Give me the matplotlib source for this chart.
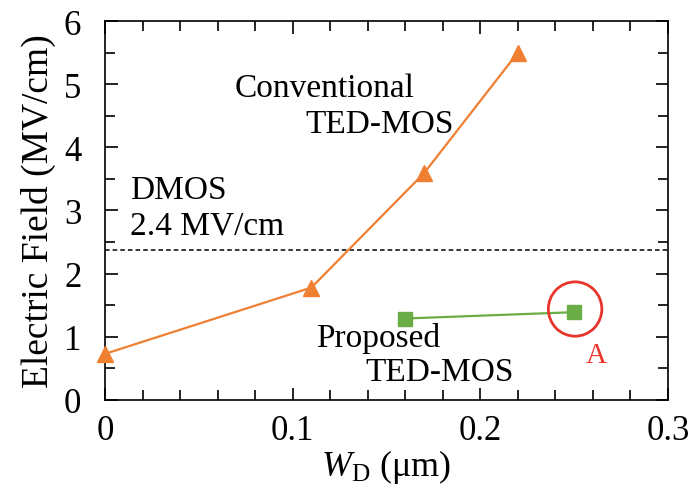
import matplotlib
matplotlib.use('Agg')
import matplotlib.pyplot as plt
from matplotlib.patches import Ellipse
from matplotlib.ticker import MultipleLocator

plt.rcParams['font.family'] = ['Liberation Serif', 'DejaVu Serif']
plt.rcParams['mathtext.fontset'] = 'custom'
plt.rcParams['mathtext.rm'] = 'Liberation Serif'
plt.rcParams['mathtext.it'] = 'Liberation Serif:italic'

# data
conv_wd = [0.0, 0.11, 0.17, 0.22]
conv_field = [0.73, 1.78, 3.59, 5.5]
prop_wd = [0.16, 0.25]
prop_field = [1.29, 1.39]
dmos_field = 2.38

orange = '#ef7f31'
green = '#6aac46'
red = '#e8352b'

fig = plt.figure(figsize=(6.92, 4.89), dpi=100)
ax = fig.add_axes([0.1517, 0.18, 0.8136, 0.775])

ax.plot(conv_wd, conv_field, color=orange, lw=1.6, marker='^', ms=11, clip_on=False, zorder=3)
ax.plot(prop_wd, prop_field, color=green, lw=1.6, marker='s', ms=10.5, zorder=3)
ax.axhline(dmos_field, color='black', ls='--', lw=1.1, dashes=(3, 2))

# circle around point A
circ = Ellipse((0.2505, 1.44), 0.0285, 0.86, fill=False, ec=red, lw=2, zorder=4)
ax.add_patch(circ)
ax.text(0.2617, 0.71, 'A', color=red, fontsize=21, ha='center', va='center')

ax.text(0.069, 4.94, 'Conventional', fontsize=24, ha='left', va='center')
ax.text(0.107, 4.37, 'TED-MOS', fontsize=24, ha='left', va='center')
ax.text(0.0132, 3.33, 'DMOS', fontsize=24, ha='left', va='center')
ax.text(0.0132, 2.76, '2.4 MV/cm', fontsize=24, ha='left', va='center')
ax.text(0.1127, 0.99, 'Proposed', fontsize=24, ha='left', va='center')
ax.text(0.139, 0.44, 'TED-MOS', fontsize=24, ha='left', va='center')

ax.set_xlim(0, 0.3)
ax.set_ylim(0, 6)
ax.set_xticks([0, 0.1, 0.2, 0.3])
ax.set_xticklabels(['0', '0.1', '0.2', '0.3'])
ax.xaxis.set_minor_locator(MultipleLocator(0.02))
ax.yaxis.set_major_locator(MultipleLocator(1))
ax.yaxis.set_minor_locator(MultipleLocator(0.5))
ax.tick_params(which='both', direction='in', top=True, right=True, labelsize=25, width=1.2)
ax.tick_params(which='major', length=9)
ax.tick_params(which='minor', length=7)
ax.tick_params(axis='x', which='major', pad=10)
ax.tick_params(axis='y', which='major', pad=17)
for s in ax.spines.values():
    s.set_linewidth(1.2)

ax.set_xlabel(r'$W_{\rm D}$ (μm)', fontsize=26, labelpad=0)
ax.set_ylabel('Electric Field (MV/cm)', fontsize=27, labelpad=6)

fig.savefig('out.png', dpi=100)
